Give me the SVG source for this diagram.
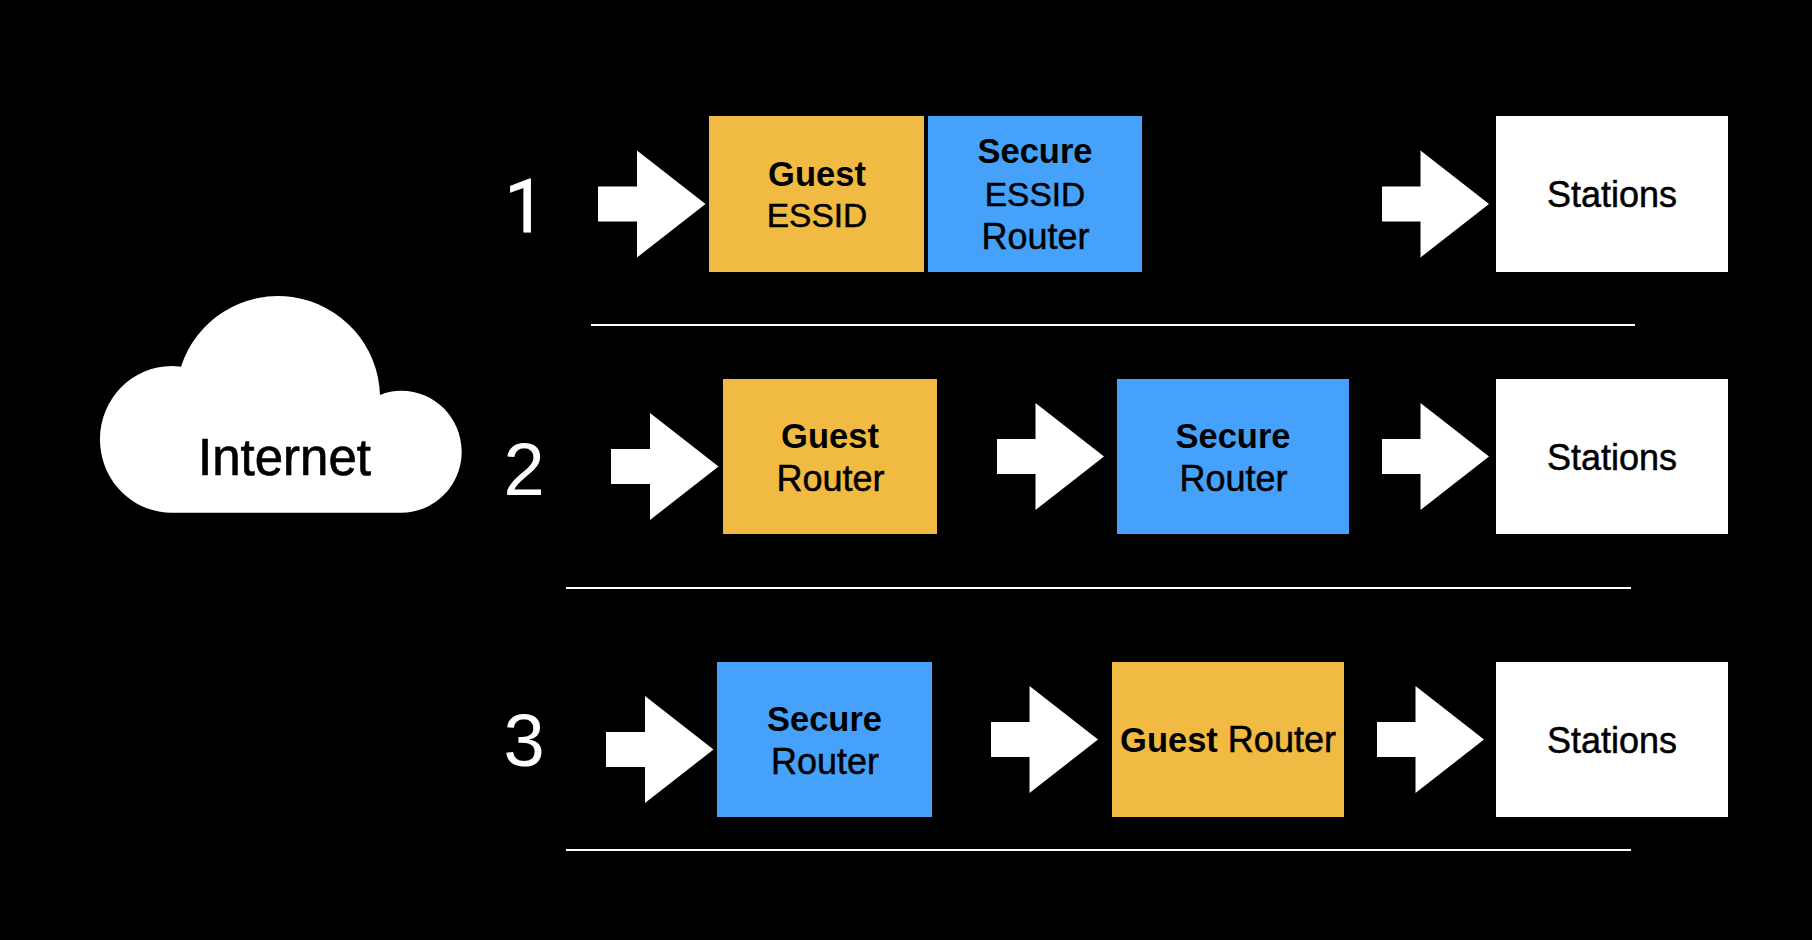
<svg xmlns="http://www.w3.org/2000/svg" width="1812" height="940" viewBox="0 0 1812 940">
<style>
text{font-family:"Liberation Sans",Arial,Helvetica,sans-serif;text-anchor:middle;fill:#000}
.t{font-size:36px;stroke:#000;stroke-width:.5px}
.e{font-size:33.500px;stroke:#000;stroke-width:.5px}
.b{font-size:34.500px;font-weight:700}
.n{font-size:74px;fill:#fff}
.o{fill:#F1BA42}.s{fill:#45A1F9}.w{fill:#fff}
.sep{stroke:#fff;stroke-width:2;fill:none}
</style>
<defs>
<path id="arrow" class="w" d="M0 -17.5H38.500V-53.5L107 0L38.500 53.5V17.5H0Z"/>
<path id="arrowB" class="w" d="M0 -17.5H39V-53.5L107.500 0L39 53.5V17.5H0Z"/>
</defs>
<rect width="1812" height="940" fill="#000"/>
<g id="connectors">
<use href="#arrowB" transform="translate(598,204)"/>
<use href="#arrow" transform="translate(1382,204)"/>
<use href="#arrowB" transform="translate(611,466.500)"/>
<use href="#arrow" transform="translate(997,456.500)"/>
<use href="#arrow" transform="translate(1382,456.500)"/>
<use href="#arrowB" transform="translate(606,749.500)"/>
<use href="#arrow" transform="translate(991,739.500)"/>
<use href="#arrow" transform="translate(1377,739.500)"/>
<line class="sep" x1="591" y1="325" x2="1635" y2="325"/>
<line class="sep" x1="566" y1="588" x2="1631" y2="588"/>
<line class="sep" x1="566" y1="850" x2="1631" y2="850"/>
</g>
<g id="internet">
<path class="w" d="M172 512.700C132 512.700 100 480 100 439.500C100 399 132 366 172 366C175 366 178 366.300 181 366.700A102 102 0 0 1 380 395C387 392 394 390.700 401 390.700C435 390.700 461.700 418 461.700 451.700C461.700 485 435 512.700 401 512.700Z"/>
<text x="284.500" y="475" style="font-size:51px;stroke:#000;stroke-width:.7px">Internet</text>
</g>
<g id="label-1"><text class="n" x="525" y="232" style="font-family:Roboto,sans-serif;stroke:#fff;stroke-width:.8px">1</text></g>
<g id="label-2"><text class="n" x="524" y="495">2</text></g>
<g id="label-3"><text class="n" x="524" y="766">3</text></g>
<g id="guest-essid">
<rect class="o" x="709" y="116" width="215" height="156"/>
<text class="b" x="817" y="186">Guest</text>
<text class="e" x="817" y="227">ESSID</text>
</g>
<g id="secure-essid-router">
<rect class="s" x="928" y="116" width="214" height="156"/>
<text class="b" x="1035" y="163">Secure</text>
<text class="e" x="1035" y="205.500">ESSID</text>
<text class="t" x="1035.500" y="249">Router</text>
</g>
<g id="stations-1">
<rect class="w" x="1496" y="116" width="232" height="156"/>
<text class="t" x="1612" y="207">Stations</text>
</g>
<g id="guest-router-2">
<rect class="o" x="723" y="379" width="214" height="155"/>
<text class="b" x="830" y="447.500">Guest</text>
<text class="t" x="830.500" y="491">Router</text>
</g>
<g id="secure-router-2">
<rect class="s" x="1117" y="379" width="232" height="155"/>
<text class="b" x="1233" y="447.500">Secure</text>
<text class="t" x="1233.500" y="491">Router</text>
</g>
<g id="stations-2">
<rect class="w" x="1496" y="379" width="232" height="155"/>
<text class="t" x="1612" y="469.500">Stations</text>
</g>
<g id="secure-router-3">
<rect class="s" x="717" y="662" width="215" height="155"/>
<text class="b" x="824.500" y="731">Secure</text>
<text class="t" x="825" y="774">Router</text>
</g>
<g id="guest-router-3">
<rect class="o" x="1112" y="662" width="232" height="155"/>
<text class="t" x="1228" y="752"><tspan style="font-size:34.500px;font-weight:700;stroke:none">Guest</tspan> Router</text>
</g>
<g id="stations-3">
<rect class="w" x="1496" y="662" width="232" height="155"/>
<text class="t" x="1612" y="753">Stations</text>
</g>
</svg>
